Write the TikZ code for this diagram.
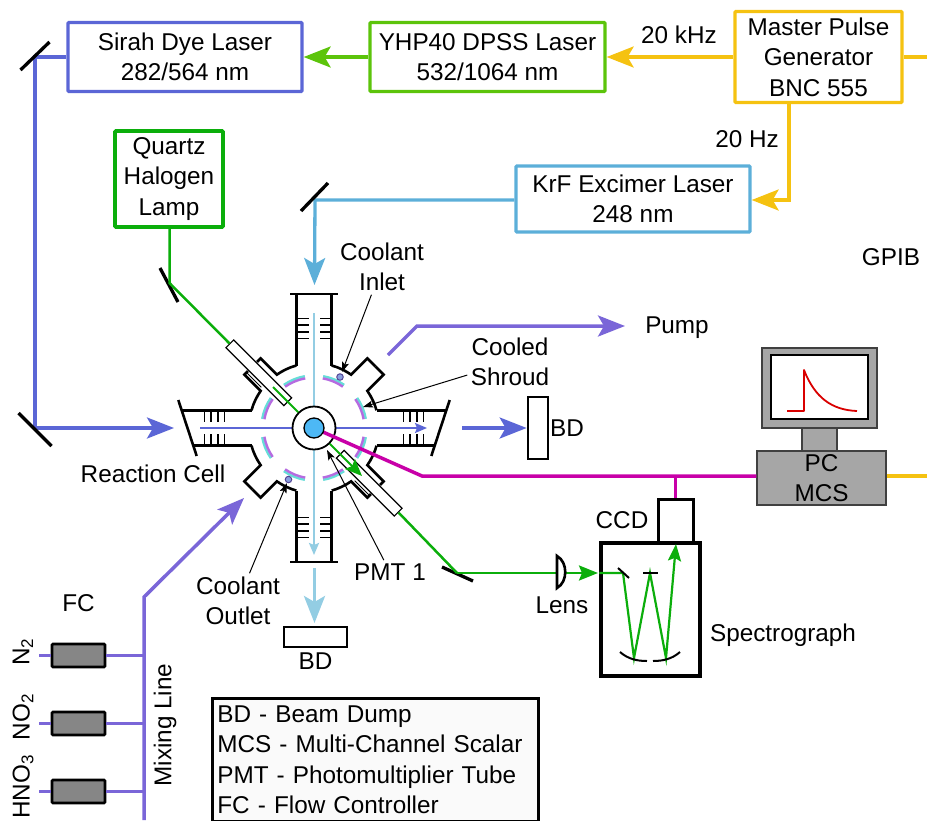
\documentclass[tikz,border=0pt]{standalone}
\usepackage{fontspec}
\usepackage{xcolor}
\usepackage{tikz}
\usetikzlibrary{positioning}
\usetikzlibrary{calc}
\usetikzlibrary{arrows.meta}
\setmainfont{Liberation Sans}
\newcommand{\lblfont}{\fontsize{24.3}{30.5}\selectfont}
\definecolor{dyeblue}{HTML}{5B66D6}
\definecolor{dpssgreen}{HTML}{5CC40B}
\definecolor{pulseyellow}{HTML}{F5C211}
\definecolor{krfblue}{HTML}{5CAFD9}
\definecolor{lampgreen}{HTML}{0BAE0B}
\definecolor{probeblue}{HTML}{93CDE3}
\definecolor{gaspurple}{HTML}{7A66D8}
\definecolor{signalpink}{HTML}{C800A8}
\definecolor{shroudteal}{HTML}{66DDD8}
\definecolor{shroudpurple}{HTML}{B56BE0}
\definecolor{corefill}{HTML}{4DB8F5}

\begin{document}
\begin{tikzpicture}[x=1pt, y=1pt, on grid, font=\lblfont,
	box/.style={rectangle, draw, line width=3.3pt, rounded corners=1pt, fill=white, align=center, inner sep=0pt},
	dump/.style={rectangle, draw=black, line width=2.7pt, fill=white, inner sep=0pt},
	fcbox/.style={rectangle, draw=black, line width=2.7pt, rounded corners=1pt, fill=gray!95, minimum width=53pt, minimum height=23pt, inner sep=0pt},
	tubebox/.style={rectangle, draw=black, line width=1.2pt, fill=white, rotate=-45, minimum width=82pt, minimum height=11pt, inner sep=0pt},
	pcpart/.style={rectangle, draw=black!75, line width=1.2pt, fill=black!35, inner sep=0pt},
	dropnode/.style={circle, draw=black!30!gaspurple, line width=1pt, fill=gaspurple!45!probeblue, minimum size=6.5pt, inner sep=0pt},
	bigtip/.style={-{Stealth[length=27pt, width=21pt, inset=6pt]}},
	smalltip/.style={-{Stealth[length=12pt, width=10pt, inset=2pt]}},
	thinarrow/.style={-{Stealth[length=10pt, width=7pt, inset=2pt]}, line width=1pt},
	beam/.style={line width=3.3pt},
	mirror/.style={line width=3.3pt, black},
	wall/.style={line width=2.6pt, black},
	baffle/.style={line width=1.6pt, black}]
	\useasboundingbox (0,0) rectangle (927,-820);

	% lasers and generator
	\node[box, draw=dyeblue, minimum width=234pt, minimum height=69pt] (sirah) at (185,-57) {Sirah Dye Laser\\282/564 nm};
	\node[box, draw=dpssgreen, minimum width=235pt, minimum height=69pt] (yhp) [right = 302.5pt of sirah] {YHP40 DPSS Laser\\532/1064 nm};
	\node[box, draw=pulseyellow, minimum width=167pt, minimum height=91pt] (master) [right = 331pt of yhp] {Master Pulse\\Generator\\BNC 555};
	\node[box, draw=krfblue, minimum width=234pt, minimum height=66pt] (krf) [below left = 142pt and 185.5pt of master] {KrF Excimer Laser\\248 nm};
	\node[box, draw=lampgreen, line width=3.6pt, minimum width=108pt, minimum height=96pt] (lamp) [below left = 122pt and 16pt of sirah] {Quartz\\Halogen\\Lamp};
	\coordinate[below right = 249pt and 145pt of lamp] (cellc);

	\node (khz) at (679,-35) {20 kHz};
	\node (hz) at (747,-139) {20 Hz};
	\node (gpib) at (891,-257) {GPIB};

	\coordinate (mA) at (35,-57);
	\coordinate (mB) at (35,-428);
	\coordinate (mC) at (169.5,-283);
	\coordinate (mD) at (315,-200);
	\coordinate (mE) at (457,-573);
	\coordinate (edgeA) at (927,-57);
	\coordinate (edgeB) at (927,-476);
	\coordinate (turnA) at (789,-200);

	\draw[beam, pulseyellow, bigtip] (master.west) -- (yhp.east);
	\draw[beam, dpssgreen, bigtip] (yhp.west) -- (sirah.east);
	\draw[beam, pulseyellow] (master.east) -- (edgeA);
	\draw[beam, pulseyellow, bigtip] (master.south -| turnA) -- (turnA) -- (krf.east |- turnA);
	\draw[beam, dyeblue, bigtip] (sirah.west) -- (mA) -- (mB) -- (174,-428);
	\draw[beam, krfblue, bigtip] (krf.west |- mD) -- (mD) -- (314.5,-285);

	\draw[mirror] (mA) +(-14.5,-13) -- +(14.5,15);
	\draw[mirror] (mB) +(-16.5,15) -- +(16.5,-18);
	\draw[mirror] (mC) +(-9.5,15) -- +(8.5,-19);
	\draw[mirror] (mD) +(-14,-11) -- +(13,17);
	\draw[mirror] (mE) +(-15,6) -- +(16,-8);

	% reaction cell
	\begin{scope}[shift={(cellc)}]
	\foreach \a/\g in {45/0,225/0,135/6.5,315/6.5} {
		\begin{scope}[rotate=\a]
		\draw[wall, line join=miter] (29.2:65) arc (29.2:10.2:65) -- (87,11.5) -- (87,\g);
		\draw[wall, line join=miter] (-29.2:65) arc (-29.2:-10.2:65) -- (87,-11.5) -- (87,-\g);
		\end{scope}
	}
	\foreach \s in {1,-1} {
		\draw[wall] (-17.7,\s*62.5) -- (-17.7,\s*134);
		\draw[wall] (17.7,\s*62.5) -- (17.7,\s*134);
		\draw[wall] (-24,\s*134) -- (24,\s*134);
		\draw[wall] (\s*62.5,17.7) -- (\s*132.3,17.7);
		\draw[wall] (\s*62.5,-17.7) -- (\s*120.7,-17.7);
		\draw[wall] (\s*135.7,28) -- (\s*117.3,-28);
		\foreach \d in {89.5,96,103,109.5} {
			\draw[baffle] (-17.7,\s*\d) -- (-5.5,\s*\d);
			\draw[baffle] (17.7,\s*\d) -- (5.5,\s*\d);
			\draw[baffle] (\s*\d,17.7) -- (\s*\d,6);
			\draw[baffle] (\s*\d,-17.7) -- (\s*\d,-6);
		}
	}
	\foreach \q in {0,90,180,270} {
		\draw[shroudteal, line width=2.4pt] (\q+10:52.6) arc (\q+10:\q+35:52.6);
		\draw[shroudteal, line width=2.4pt] (\q+55:52.6) arc (\q+55:\q+80:52.6);
		\draw[shroudpurple, line width=2.4pt] (\q+10:50.4) arc (\q+10:\q+35:50.4);
		\draw[shroudpurple, line width=2.4pt] (\q+55:50.4) arc (\q+55:\q+80:50.4);
	}
	\draw[line width=.9pt, rotate=135] (66,8.5) -- (86,8.5);
	\draw[line width=.9pt, rotate=315] (66,-8.5) -- (86,-8.5);
	\draw[line width=2.3pt, probeblue, smalltip] (0,115) -- (0,-127);
	\draw[line width=1.8pt, dyeblue, smalltip] (-114,0) -- (113,0);
	\node[tubebox] (tubeA) at (-55.2,55.2) {};
	\node[tubebox] (tubeB) at (55.2,-55.2) {};
	\node[circle, draw=black, line width=1.8pt, fill=white, minimum size=43pt, inner sep=0pt] (cell) at (0,0) {};
	\node[dropnode] (dropA) at (26,51) {};
	\node[dropnode] (dropB) at (-25.5,-51.5) {};
	\end{scope}

	% light paths
	\draw[line width=2.5pt, lampgreen] (lamp.south -| mC) -- (mC) -- (tubeA.west);
	\draw[line width=2pt, lampgreen] (cell.135) -- ($(cellc)+(-41,41)$);
	\draw[line width=2pt, lampgreen, -{Stealth[length=17pt, width=14pt, inset=3pt]}] (cell.-45) -- ($(cellc)+(48,-48)$);
	\draw[line width=2.5pt, lampgreen] (tubeB.east) -- (mE);

	% spectrograph
	\node[box, draw=black, line width=3.5pt, rounded corners=0pt, minimum width=99pt, minimum height=133pt] (spec) at (650.5,-609.5) {};
	\node[box, draw=black, line width=3pt, rounded corners=0pt, minimum width=35pt, minimum height=43pt] (ccd) at (675.5,-520.5) {};
	\node (ccdl) [left = 53.5pt of ccd] {CCD};
	\node (specl) at (783,-635) {Spectrograph};
	\node (lensl) at (562,-605) {Lens};
	\coordinate (specin) at (598,-573);
	\draw[line width=2.5pt, lampgreen, -{Stealth[length=19pt, width=15pt, inset=3pt]}] (mE) -- (specin);
	\draw[wall, fill=white] (557,-556) .. controls (568,-562) and (568,-582) .. (557,-588) -- cycle;
	\draw[line width=2.2pt, lampgreen, -{Stealth[length=17pt, width=13pt, inset=3pt]}] (spec.west |- mE) -- (623,-573) -- (634,-658) -- (650,-573) -- (666,-658) -- (676,-544);
	\draw[line width=2pt, black] (618,-568) -- (629,-578);
	\draw[line width=2pt, black] (643,-573) -- (658,-573);
	\draw[line width=2pt, black] (620,-652) .. controls (628,-659) and (637,-661) .. (647,-661);
	\draw[line width=2pt, black] (680,-652) .. controls (672,-659) and (663,-661) .. (653,-661);

	% computer
	\node[pcpart, minimum width=115pt, minimum height=80pt] (monitor) at (819.5,-388) {};
	\node[pcpart, minimum width=35pt, minimum height=23pt] (neck) [below = 51.5pt of monitor] {};
	\node[rectangle, draw=black, line width=1.5pt, fill=white, minimum width=97pt, minimum height=64pt, inner sep=0pt] (screen) at (819.5,-387) {};
	\node[pcpart, align=center, minimum width=129pt, minimum height=54pt] (pc) at (821.5,-478) {PC\\MCS};
	\draw[line width=1.8pt, red!85!black, line join=round] (787,-411) -- (804,-411) -- (804,-370) .. controls (815,-398) and (832,-410) .. (857,-411);

	% signal line
	\coordinate (kink) at (422,-476);
	\draw[line width=3.5pt, signalpink] (cell.center) -- (kink) -- (pc.west |- kink);
	\draw[line width=3pt, signalpink] (ccd.north |- kink) -- (ccd.north);
	\draw[beam, pulseyellow] (pc.east |- edgeB) -- (edgeB);
	\node[circle, draw=black, line width=1.3pt, fill=corefill, minimum size=20pt, inner sep=0pt] (core) at (cellc) {};

	\node[align=center] (inlet) at (382,-267) {Coolant\\Inlet};
	\node[align=center] (shroud) at (510,-362) {Cooled\\Shroud};
	\node[align=center] (outlet) at (238,-601) {Coolant\\Outlet};
	\node (pmt) at (390,-572) {PMT 1};
	\node (rcell) at (153,-474) {Reaction Cell};
	\draw[thinarrow] (inlet) -- (342,-372);
	\draw[thinarrow] (shroud) -- (363,-407);
	\draw[thinarrow] (outlet) -- (287,-483);
	\draw[thinarrow] (pmt) -- (327,-450);

	% pump and beam dumps
	\coordinate (pumpA) at (388,-355);
	\coordinate (pumpB) at (417,-326);
	\node (pump) at (677,-328) {Pump};
	\draw[line width=3.5pt, gaspurple, bigtip] (pumpA) -- (pumpB) -- (625,-326);
	\node[dump, minimum width=20pt, minimum height=62pt] (dumpA) at (538,-428) {};
	\node (dumpAl) [right = 29pt of dumpA] {BD};
	\coordinate (beamout) at (462,-428);
	\draw[beam, dyeblue, bigtip] (beamout) -- (dumpA.west);
	\node[dump, minimum width=63pt, minimum height=20pt] (dumpB) at (315.5,-637) {};
	\node (dumpBl) [below = 24pt of dumpB] {BD};
	\coordinate (beamdown) at (314.5,-568);
	\draw[line width=3.5pt, probeblue, bigtip] (beamdown) -- (314.5,-623);

	% gas handling
	\node[fcbox] (fcA) at (78.5,-655.5) {};
	\node[fcbox] (fcB) [below = 68pt of fcA] {};
	\node[fcbox] (fcC) [below = 68pt of fcB] {};
	\node (fcl) [above = 52.5pt of fcA] {FC};
	\coordinate (busB) at (144,-820);
	\coordinate (busT) at (144,-597);
	\draw[line width=3.5pt, gaspurple, bigtip] (busB) -- (busT) -- (244,-498);
	\foreach \f/\y in {fcA/-655.5,fcB/-723.5,fcC/-791.5} {
		\draw[line width=3.5pt, gaspurple] (39,\y) -- (\f.west);
		\draw[line width=3.5pt, gaspurple] (\f.east) -- (\f.east -| busT);
	}
	\node[rotate=90] (gasA) at (23,-652) {N\textsubscript{2}};
	\node[rotate=90] (gasB) at (23,-717) {NO\textsubscript{2}};
	\node[rotate=90] (gasC) at (23,-787) {HNO\textsubscript{3}};
	\node[rotate=90] (mixl) at (165,-725) {Mixing Line};

	% legend
	\node[rectangle, draw=black, line width=2.7pt, fill=black!2, anchor=north west, minimum width=326pt, minimum height=123pt, inner sep=0pt, inner xsep=5pt, align=left, text width=316pt] (legend) at (211,-697) {BD - Beam Dump\\MCS - Multi-Channel Scalar\\PMT - Photomultiplier Tube\\FC - Flow Controller};
\end{tikzpicture}
\end{document}
